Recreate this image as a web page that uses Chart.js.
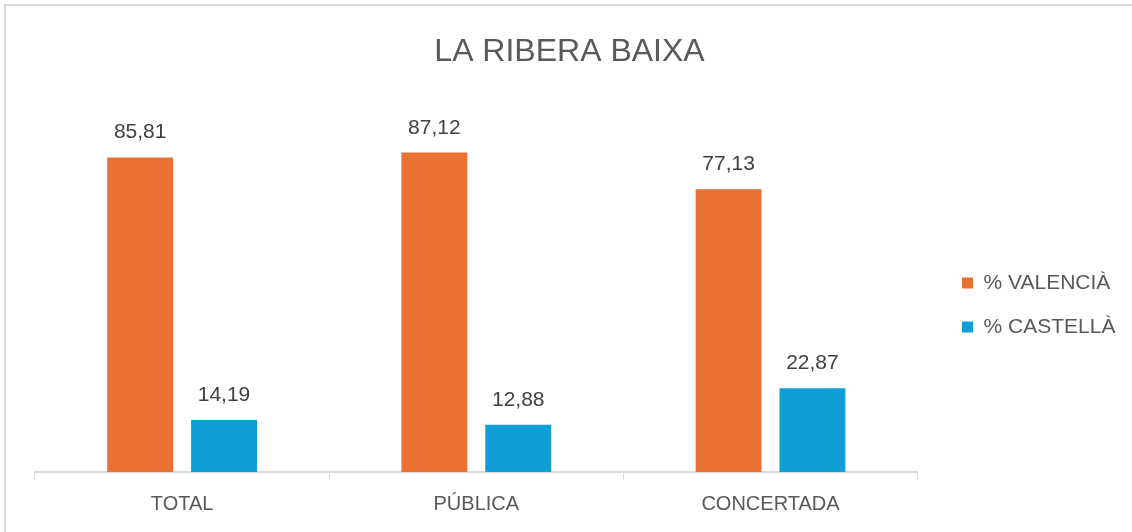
<!DOCTYPE html>
<html>
<head>
<meta charset="utf-8">
<script src="https://cdn.jsdelivr.net/npm/chart.js@4"></script>
<style>
    html, body { margin: 0; padding: 0; background: #fff; overflow: hidden; }
    #frame { position: absolute; left: 4px; top: 4px; width: 1140px; height: 540px; border: 2px solid #d9d9d9; }
    #wrap { position: absolute; left: 0; top: 0; width: 1132px; height: 532px; }
</style>
</head>
<body>
<div id="frame"></div>
<div id="wrap"><canvas id="chart"></canvas></div>
<script>
const categories = ['TOTAL', 'PÚBLICA', 'CONCERTADA'];
const valenciaValues = [85.81, 87.12, 77.13];
const castellaValues = [14.19, 12.88, 22.87];
const seriesNames = ['% VALENCIÀ', '% CASTELLÀ'];

const FONT = "'Liberation Sans', Arial, sans-serif";

// draws the value above each bar, with a decimal comma
const valueLabels = {
    id: 'valueLabels',
    afterDatasetsDraw(chart) {
        const ctx = chart.ctx;
        ctx.save();
        ctx.font = '21px ' + FONT;
        ctx.fillStyle = '#404040';
        ctx.textAlign = 'center';
        ctx.textBaseline = 'alphabetic';
        chart.data.datasets.forEach((ds, i) => {
            chart.getDatasetMeta(i).data.forEach((bar, j) => {
                const txt = ds.data[j].toFixed(2).replace('.', ',');
                ctx.fillText(txt, bar.x, bar.y - 19);
            });
        });
        ctx.restore();
    }
};

// nudge the legend box so it sits where the original one does
const legendSpot = {
    id: 'legendSpot',
    afterLayout(chart) {
        const lg = chart.legend;
        const pad = lg.options.labels.padding;
        const dx = 962 - pad - lg.left;
        lg.left += dx;
        lg.right += dx;
        const dy = 249.5 - lg.top;
        lg.top += dy;
        lg.bottom += dy;
    }
};

new Chart(document.getElementById('chart'), {
    type: 'bar',
    data: {
        labels: categories,
        datasets: [
            { label: seriesNames[0], data: valenciaValues, backgroundColor: '#E97132' },
            { label: seriesNames[1], data: castellaValues, backgroundColor: '#0F9ED5' }
        ]
    },
    options: {
        responsive: true,
        maintainAspectRatio: false,
        animation: false,
        categoryPercentage: 0.57,
        barPercentage: 0.786,
        layout: { padding: { left: 35, right: 28, top: 0, bottom: 4 } },
        plugins: {
            title: {
                display: true,
                text: 'LA RIBERA BAIXA',
                color: '#595959',
                font: { family: FONT, size: 32, weight: 'normal' },
                padding: { top: 33, bottom: 34 }
            },
            legend: {
                position: 'right',
                align: 'start',
                labels: {
                    color: '#595959',
                    font: { family: FONT, size: 21 },
                    boxWidth: 11,
                    boxHeight: 11,
                    padding: 23
                }
            },
            tooltip: { enabled: false }
        },
        scales: {
            x: {
                grid: { display: true, drawOnChartArea: false, drawTicks: true, tickLength: 8, color: '#d9d9d9', offset: true },
                border: { display: true, color: '#d9d9d9', width: 2 },
                ticks: { color: '#595959', font: { family: FONT, size: 20 }, padding: 12 }
            },
            y: {
                display: false,
                min: 0,
                max: 100
            }
        }
    },
    plugins: [valueLabels, legendSpot]
});
</script>
</body>
</html>
